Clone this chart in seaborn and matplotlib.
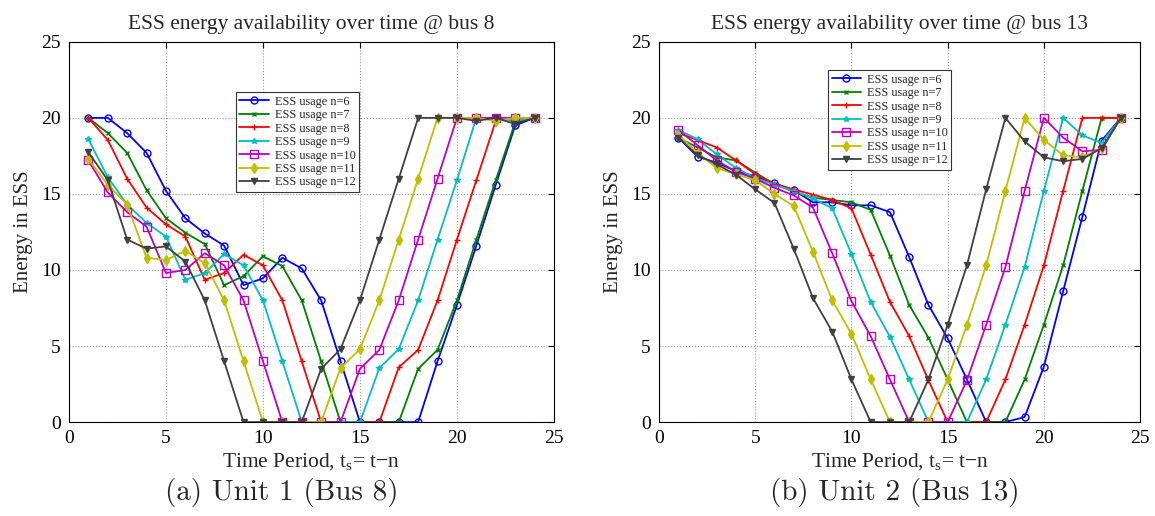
import numpy as np
import pandas as pd
import matplotlib
matplotlib.use("Agg")
import matplotlib.pyplot as plt
import seaborn as sns

# time periods
t = list(range(1, 25))
usage_n = [6, 7, 8, 9, 10, 11, 12]

# ESS energy @ bus 8 (Unit 1)
bus8_n6 = [20, 20, 19, 17.7, 15.2, 13.4, 12.4, 11.6, 9.0, 9.45, 10.8, 10.1, 8.0, 4.0, 0, 0, 0, 0, 4.0, 7.7, 11.6, 15.6, 19.5, 20]
bus8_n7 = [20, 19, 17.7, 15.25, 13.4, 12.45, 11.7, 9.0, 9.6, 10.9, 10.25, 8.0, 4.0, 0, 0, 0, 0, 3.5, 4.75, 8.0, 12.0, 15.9, 19.7, 20]
bus8_n8 = [20, 18.55, 16.0, 14.1, 13.0, 12.2, 9.35, 9.8, 11.0, 10.3, 8.0, 4.0, 0, 0, 0, 0, 3.6, 4.75, 8.0, 12.0, 15.9, 19.8, 20, 20]
bus8_n9 = [18.6, 16.1, 14.3, 13.1, 12.2, 9.35, 9.8, 11.05, 10.3, 8.0, 4.0, 0, 0, 0, 0, 3.55, 4.8, 8.0, 12.0, 15.9, 20, 20, 19.8, 20]
bus8_n10 = [17.2, 15.1, 13.8, 12.85, 9.8, 10.0, 11.1, 10.3, 8.0, 4.0, 0, 0, 0, 0, 3.5, 4.75, 8.0, 12.0, 16.0, 20, 20, 20, 20, 20]
bus8_n11 = [17.3, 15.6, 14.3, 10.8, 10.65, 11.25, 10.45, 8.0, 4.0, 0, 0, 0, 0, 3.55, 4.8, 8.0, 12.0, 16.0, 20, 20, 20, 19.8, 20, 20]
bus8_n12 = [17.75, 15.9, 12.0, 11.4, 11.55, 10.55, 8.0, 4.0, 0, 0, 0, 0, 3.5, 4.8, 8.0, 12.0, 16.0, 20, 20, 20, 19.8, 20, 19.6, 20]

# ESS energy @ bus 13 (Unit 2)
bus13_n6 = [18.7, 17.45, 17.05, 16.5, 16.15, 15.7, 15.25, 14.45, 14.45, 14.25, 14.25, 13.8, 10.85, 7.7, 5.5, 2.8, 0, 0, 0.33, 3.65, 8.6, 13.5, 18.5, 20]
bus13_n7 = [18.7, 18.05, 17.4, 17.2, 16.4, 15.65, 15.15, 14.75, 14.6, 14.45, 13.95, 10.95, 7.7, 5.55, 2.8, 0, 0, 0, 2.8, 6.4, 10.3, 15.2, 20, 20]
bus13_n8 = [19.0, 18.55, 18.05, 17.2, 16.3, 15.65, 15.3, 14.95, 14.6, 14.05, 11.0, 7.9, 5.65, 2.75, 0, 0, 0, 2.8, 6.4, 10.3, 15.2, 20, 20, 20]
bus13_n9 = [19.2, 18.6, 17.6, 16.7, 16.05, 15.6, 15.2, 14.7, 14.05, 11.05, 7.9, 5.6, 2.8, 0, 0, 0, 2.8, 6.4, 10.2, 15.2, 20, 18.85, 18.35, 20]
bus13_n10 = [19.2, 18.2, 17.2, 16.45, 16.0, 15.4, 14.9, 14.1, 11.1, 7.95, 5.65, 2.8, 0, 0, 0, 2.75, 6.4, 10.2, 15.2, 20, 18.7, 17.8, 17.9, 20]
bus13_n11 = [18.9, 17.7, 16.7, 16.3, 15.9, 15.0, 14.2, 11.2, 8.0, 5.8, 2.8, 0, 0, 0, 2.8, 6.4, 10.3, 15.2, 20, 18.55, 17.55, 17.4, 18.0, 20]
bus13_n12 = [18.7, 17.55, 16.95, 16.25, 15.3, 14.4, 11.4, 8.15, 5.95, 2.8, 0, 0, 0, 2.8, 6.4, 10.3, 15.3, 20, 18.45, 17.4, 17.15, 17.3, 18.0, 20]

bus8 = [bus8_n6, bus8_n7, bus8_n8, bus8_n9, bus8_n10, bus8_n11, bus8_n12]
bus13 = [bus13_n6, bus13_n7, bus13_n8, bus13_n9, bus13_n10, bus13_n11, bus13_n12]

# MATLAB-ish styling
colors = ["#0000ff", "#008000", "#ff0000", "#00bfbf", "#bf00bf", "#bfbf00", "#404040"]
markers = ["o", "x", "+", "*", "s", "d", "v"]
hollow = [True, False, False, False, True, False, False]
msizes = [5, 3.5, 5, 4, 5.5, 5, 5]

sns.set_theme(style="white")
plt.rcParams["font.family"] = ["Liberation Serif", "DejaVu Serif"]
plt.rcParams["mathtext.fontset"] = "custom"
plt.rcParams["mathtext.rm"] = "Liberation Serif"
plt.rcParams["axes.unicode_minus"] = True


def draw_panel(ax, series, bus, legend_anchor):
    for n, vals, c, m, h, ms in zip(usage_n, series, colors, markers, hollow, msizes):
        df = pd.DataFrame({"t": t, "energy": vals})
        sns.lineplot(data=df, x="t", y="energy", ax=ax, color=c, marker=m,
                     markersize=ms, markeredgecolor=c,
                     markerfacecolor="none" if h else c,
                     markeredgewidth=1.0, linewidth=1.3,
                     label=f"ESS usage n={n}")
    ax.set_xlim(0, 25)
    ax.set_ylim(0, 25)
    ax.set_xticks(range(0, 26, 5))
    ax.set_yticks(range(0, 26, 5))
    ax.grid(True, linestyle=":", color="#999999", linewidth=0.8)
    for s in ax.spines.values():
        s.set_color("black")
        s.set_linewidth(0.8)
    ax.tick_params(direction="in", top=True, right=True, length=4, pad=6,
                   labelsize=14, colors="black", width=0.8)
    ax.set_title(f"ESS energy availability over time @ bus {bus}", fontsize=15.5, pad=9)
    ax.set_xlabel("Time Period, $\\mathregular{t_s}$= t\u2212n", fontsize=15.5, labelpad=3)
    ax.set_ylabel("Energy in ESS", fontsize=15, labelpad=6)
    leg = ax.legend(loc="upper left", bbox_to_anchor=legend_anchor, fontsize=8.8,
                    frameon=True, fancybox=False, borderpad=0.3, labelspacing=0.12,
                    handlelength=2.4, handletextpad=0.5, borderaxespad=0)
    leg.get_frame().set_edgecolor("black")
    leg.get_frame().set_linewidth(0.8)


fig = plt.figure(figsize=(11.55, 5.16), dpi=100)
ax1 = fig.add_axes([0.0597, 0.182, 0.4199, 0.737])
ax2 = fig.add_axes([0.5706, 0.182, 0.4165, 0.737])

draw_panel(ax1, bus8, 8, (0.344, 0.868))
draw_panel(ax2, bus13, 13, (0.351, 0.926))

fig.text(0.244, 0.046, "(a) Unit 1 (Bus 8)", family="cmr10", fontsize=21, ha="center", va="center")
fig.text(0.775, 0.046, "(b) Unit 2 (Bus 13)", family="cmr10", fontsize=21, ha="center", va="center")

fig.savefig("out.png", dpi=100)
